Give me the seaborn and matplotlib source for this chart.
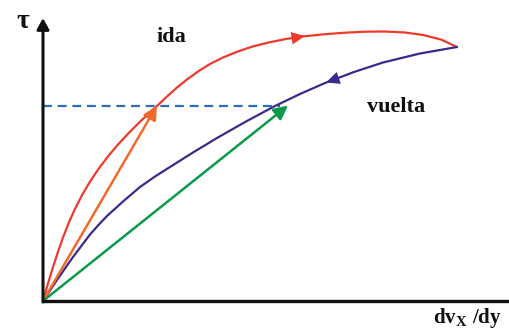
import matplotlib
matplotlib.use("Agg")
import matplotlib.pyplot as plt
import seaborn as sns
import pandas as pd

# Flow curve going out ("ida"): shear rate vs. shear stress, arbitrary units
ida_x = [0, 5, 10, 15, 20, 26, 32, 39, 47, 56, 65, 75, 85, 95, 105, 114, 124, 134,
         144, 155, 167, 180, 194, 209, 225, 243, 262, 282, 302, 322, 342, 362,
         380, 398, 414]
ida_y = [0, 17.5, 33.9, 49.2, 63.5, 78.8, 92.1, 105.8, 119.4, 132.7, 144.6, 156.5,
         167.2, 177.3, 186.8, 195, 204.5, 213.5, 221.5, 229.5, 237, 243.5, 249.2,
         254.3, 258.4, 262, 264.8, 266.8, 268.3, 269.3, 269.5, 268.5, 266, 261.5, 254]

# Flow curve coming back ("vuelta")
vuelta_x = [0, 15, 30, 38, 47, 55, 64, 80, 97, 112, 127, 150, 174, 203, 232, 257,
            282, 311, 340, 377, 414]
vuelta_y = [0, 22.5, 44, 54.6, 66.5, 75.5, 85, 99.5, 114, 124.5, 134, 148.5, 163,
            179.5, 195, 207, 218, 229, 238.5, 247.5, 254]

# Stress level compared on both branches and the two secant slopes
tau_level = 195
dash_end = 237
secant_tips_x = [114, 245]
secant_tips_y = [195.5, 195.5]

# Direction markers along each branch (tail -> head)
ida_dir = [(232, 260), (262, 265)]
vuelta_dir = [(318, 231), (283, 218.5)]

RED = "#EE3A2C"
ORANGE = "#F26A2A"
INDIGO = "#3B2A8A"
GREEN = "#0A9A4A"
DASH = "#2F6DB5"

sns.set_theme(style="white")
plt.rcParams["font.family"] = ["Liberation Serif", "DejaVu Serif"]
plt.rcParams["mathtext.fontset"] = "custom"
plt.rcParams["mathtext.rm"] = "Liberation Serif:bold"
plt.rcParams["mathtext.bf"] = "Liberation Serif:bold"
plt.rcParams["mathtext.it"] = "Liberation Serif:bold"

fig = plt.figure(figsize=(5.10, 3.35), dpi=100)
ax = fig.add_axes([0, 0, 1, 1])
ax.set_xlim(-43, 467)
ax.set_ylim(-34, 301)
ax.axis("off")

ida = pd.DataFrame({"x": ida_x, "y": ida_y})
vuelta = pd.DataFrame({"x": vuelta_x, "y": vuelta_y})

# dashed stress level
ax.plot([0, dash_end], [tau_level, tau_level], color=DASH, lw=1.6,
        dashes=(4, 2.6), zorder=2)

sns.lineplot(data=ida, x="x", y="y", sort=False, color=RED, lw=1.6, ax=ax, zorder=3)
sns.lineplot(data=vuelta, x="x", y="y", sort=False, color=INDIGO, lw=1.6, ax=ax, zorder=3)

# secant arrows from the origin
for tx, ty, c in zip(secant_tips_x, secant_tips_y, [ORANGE, GREEN]):
    ax.annotate("", xy=(tx, ty), xytext=(0, 0),
                arrowprops=dict(arrowstyle="-|>,head_length=0.6,head_width=0.3",
                                color=c, lw=1.8, mutation_scale=14,
                                shrinkA=0, shrinkB=0), zorder=4)

# direction heads on the curves
for (tail, head), c in [(ida_dir, RED), (vuelta_dir, INDIGO)]:
    ax.annotate("", xy=head, xytext=tail,
                arrowprops=dict(arrowstyle="-|>,head_length=0.65,head_width=0.3",
                                color=c, lw=0, mutation_scale=15,
                                shrinkA=0, shrinkB=0), zorder=5)

# coordinate axes
ax.annotate("", xy=(0, 283), xytext=(0, -1),
            arrowprops=dict(arrowstyle="-|>,head_length=0.55,head_width=0.3",
                            color="#111111", lw=2.2, mutation_scale=12,
                            shrinkA=0, shrinkB=0), zorder=6)
ax.plot([-1.2, 467], [0, 0], color="#111111", lw=2.4, solid_capstyle="butt", zorder=6)

ax.text(-20, 279, "τ", fontsize=20, fontweight="bold", ha="center", va="center",
        color="#111111")
ax.text(128, 264, "ida", fontsize=16, fontweight="bold", ha="center", va="center",
        color="#111111")
ax.text(353, 194, "vuelta", fontsize=16, fontweight="bold", ha="center", va="center",
        color="#111111")
ax.text(424, -17, r"$\mathrm{dv_X\ /dy}$", fontsize=15, ha="center", va="center",
        color="#111111")

fig.savefig("out.png", dpi=100)
